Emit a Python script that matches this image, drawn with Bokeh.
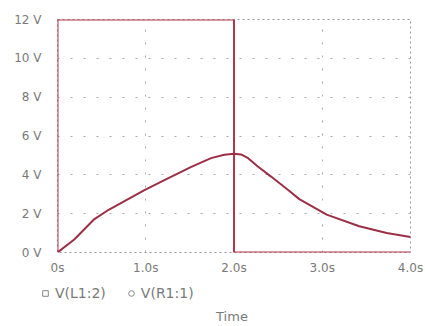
from bokeh.plotting import figure
from bokeh.layouts import column
from bokeh.models import (FixedTicker, Range1d, Legend, LegendItem)
from bokeh.embed import file_html
from bokeh.resources import INLINE

# ---- data ----
sq_t = [0.0, 0.0, 2.0, 2.0, 4.0]
sq_v = [0.0, 12.0, 12.0, 0.0, 0.0]

r_t = [0.0, 0.19, 0.41, 0.58, 0.98, 1.2, 1.51, 1.74, 1.89, 2.0, 2.08, 2.16, 2.27, 2.42, 2.61, 2.74, 3.05, 3.42, 3.73, 4.0]
r_v = [0.0, 0.67, 1.69, 2.2, 3.2, 3.7, 4.4, 4.86, 5.03, 5.08, 5.05, 4.86, 4.43, 3.91, 3.23, 2.75, 1.95, 1.35, 1.0, 0.8]

x_ticks = [0, 1, 2, 3, 4]
x_tick_labels = ["0s", "1.0s", "2.0s", "3.0s", "4.0s"]
y_ticks = [0, 2, 4, 6, 8, 10, 12]
y_tick_labels = ["0 V", "2 V", "4 V", "6 V", "8 V", "10 V", "12 V"]
series_names = ["V(L1:2)", "V(R1:1)"]
axis_title = "Time"

FONT = "DejaVu Sans"
TXT = "#7a7a7a"
C_SQ = "#b3364e"
C_R = "#9c2f45"
NAN = float("nan")

p = figure(width=425, height=277, output_backend="svg", toolbar_location=None,
           x_range=Range1d(0, 4), y_range=Range1d(0, 12),
           min_border_left=57, min_border_right=15, min_border_top=19, min_border_bottom=24)

p.outline_line_color = "#999999"
p.outline_line_dash = "2 3"
p.outline_line_width = 1

p.xgrid.ticker = FixedTicker(ticks=x_ticks[1:-1])
p.ygrid.ticker = FixedTicker(ticks=y_ticks[1:-1])
for g in (p.xgrid, p.ygrid):
    g.grid_line_color = "#aaaaaa"
    g.grid_line_dash = "2 11"
    g.grid_line_width = 1

p.xaxis.ticker = FixedTicker(ticks=x_ticks)
p.yaxis.ticker = FixedTicker(ticks=y_ticks)
p.xaxis.major_label_overrides = {t: l for t, l in zip(x_ticks, x_tick_labels)}
p.yaxis.major_label_overrides = {t: l for t, l in zip(y_ticks, y_tick_labels)}
for ax in (p.xaxis, p.yaxis):
    ax.axis_line_color = None
    ax.major_tick_line_color = None
    ax.minor_tick_line_color = None
    ax.major_label_text_font = FONT
    ax.major_label_text_font_size = "12px"
    ax.major_label_text_color = TXT
p.xaxis.major_label_standoff = 2
p.yaxis.major_label_standoff = 10

p.line(sq_t, sq_v, line_color=C_SQ, line_width=2)
p.line(r_t, r_v, line_color=C_R, line_width=2)

# ---- legend + axis title strip ----
p2 = figure(width=425, height=49, output_backend="svg", toolbar_location=None,
            x_range=Range1d(0, 1), y_range=Range1d(0, 1),
            min_border_left=38, min_border_right=0, min_border_top=8, min_border_bottom=0)
p2.frame_align = False
p2.outline_line_color = None
p2.grid.visible = False
p2.yaxis.visible = False
p2.xaxis.ticker = FixedTicker(ticks=[])
p2.xaxis.axis_line_color = None
p2.xaxis.major_tick_line_color = None
p2.xaxis.minor_tick_line_color = None
p2.xaxis.major_label_text_font_size = "0px"
p2.xaxis.major_label_standoff = 0
p2.xaxis.axis_label = axis_title
p2.xaxis.axis_label_text_font = FONT
p2.xaxis.axis_label_text_font_size = "13px"
p2.xaxis.axis_label_text_font_style = "normal"
p2.xaxis.axis_label_text_color = TXT
p2.xaxis.axis_label_standoff = 0

m1 = p2.scatter([NAN], [NAN], marker="square", size=7, fill_color=None, line_color="#888888")
m2 = p2.scatter([NAN], [NAN], marker="circle", size=6, fill_color=None, line_color="#888888")

legend = Legend(items=[LegendItem(label=series_names[0], renderers=[m1]),
                       LegendItem(label=series_names[1], renderers=[m2])],
                orientation="horizontal", location="top_left",
                border_line_color=None, background_fill_alpha=0,
                label_text_font=FONT, label_text_font_size="14px", label_text_color=TXT,
                glyph_width=14, glyph_height=14, label_standoff=3, spacing=18,
                padding=0, margin=0, label_height=14)
p2.add_layout(legend, "center")

layout = column(p, p2, spacing=0)
open("out.html", "w").write(file_html(layout, INLINE))
